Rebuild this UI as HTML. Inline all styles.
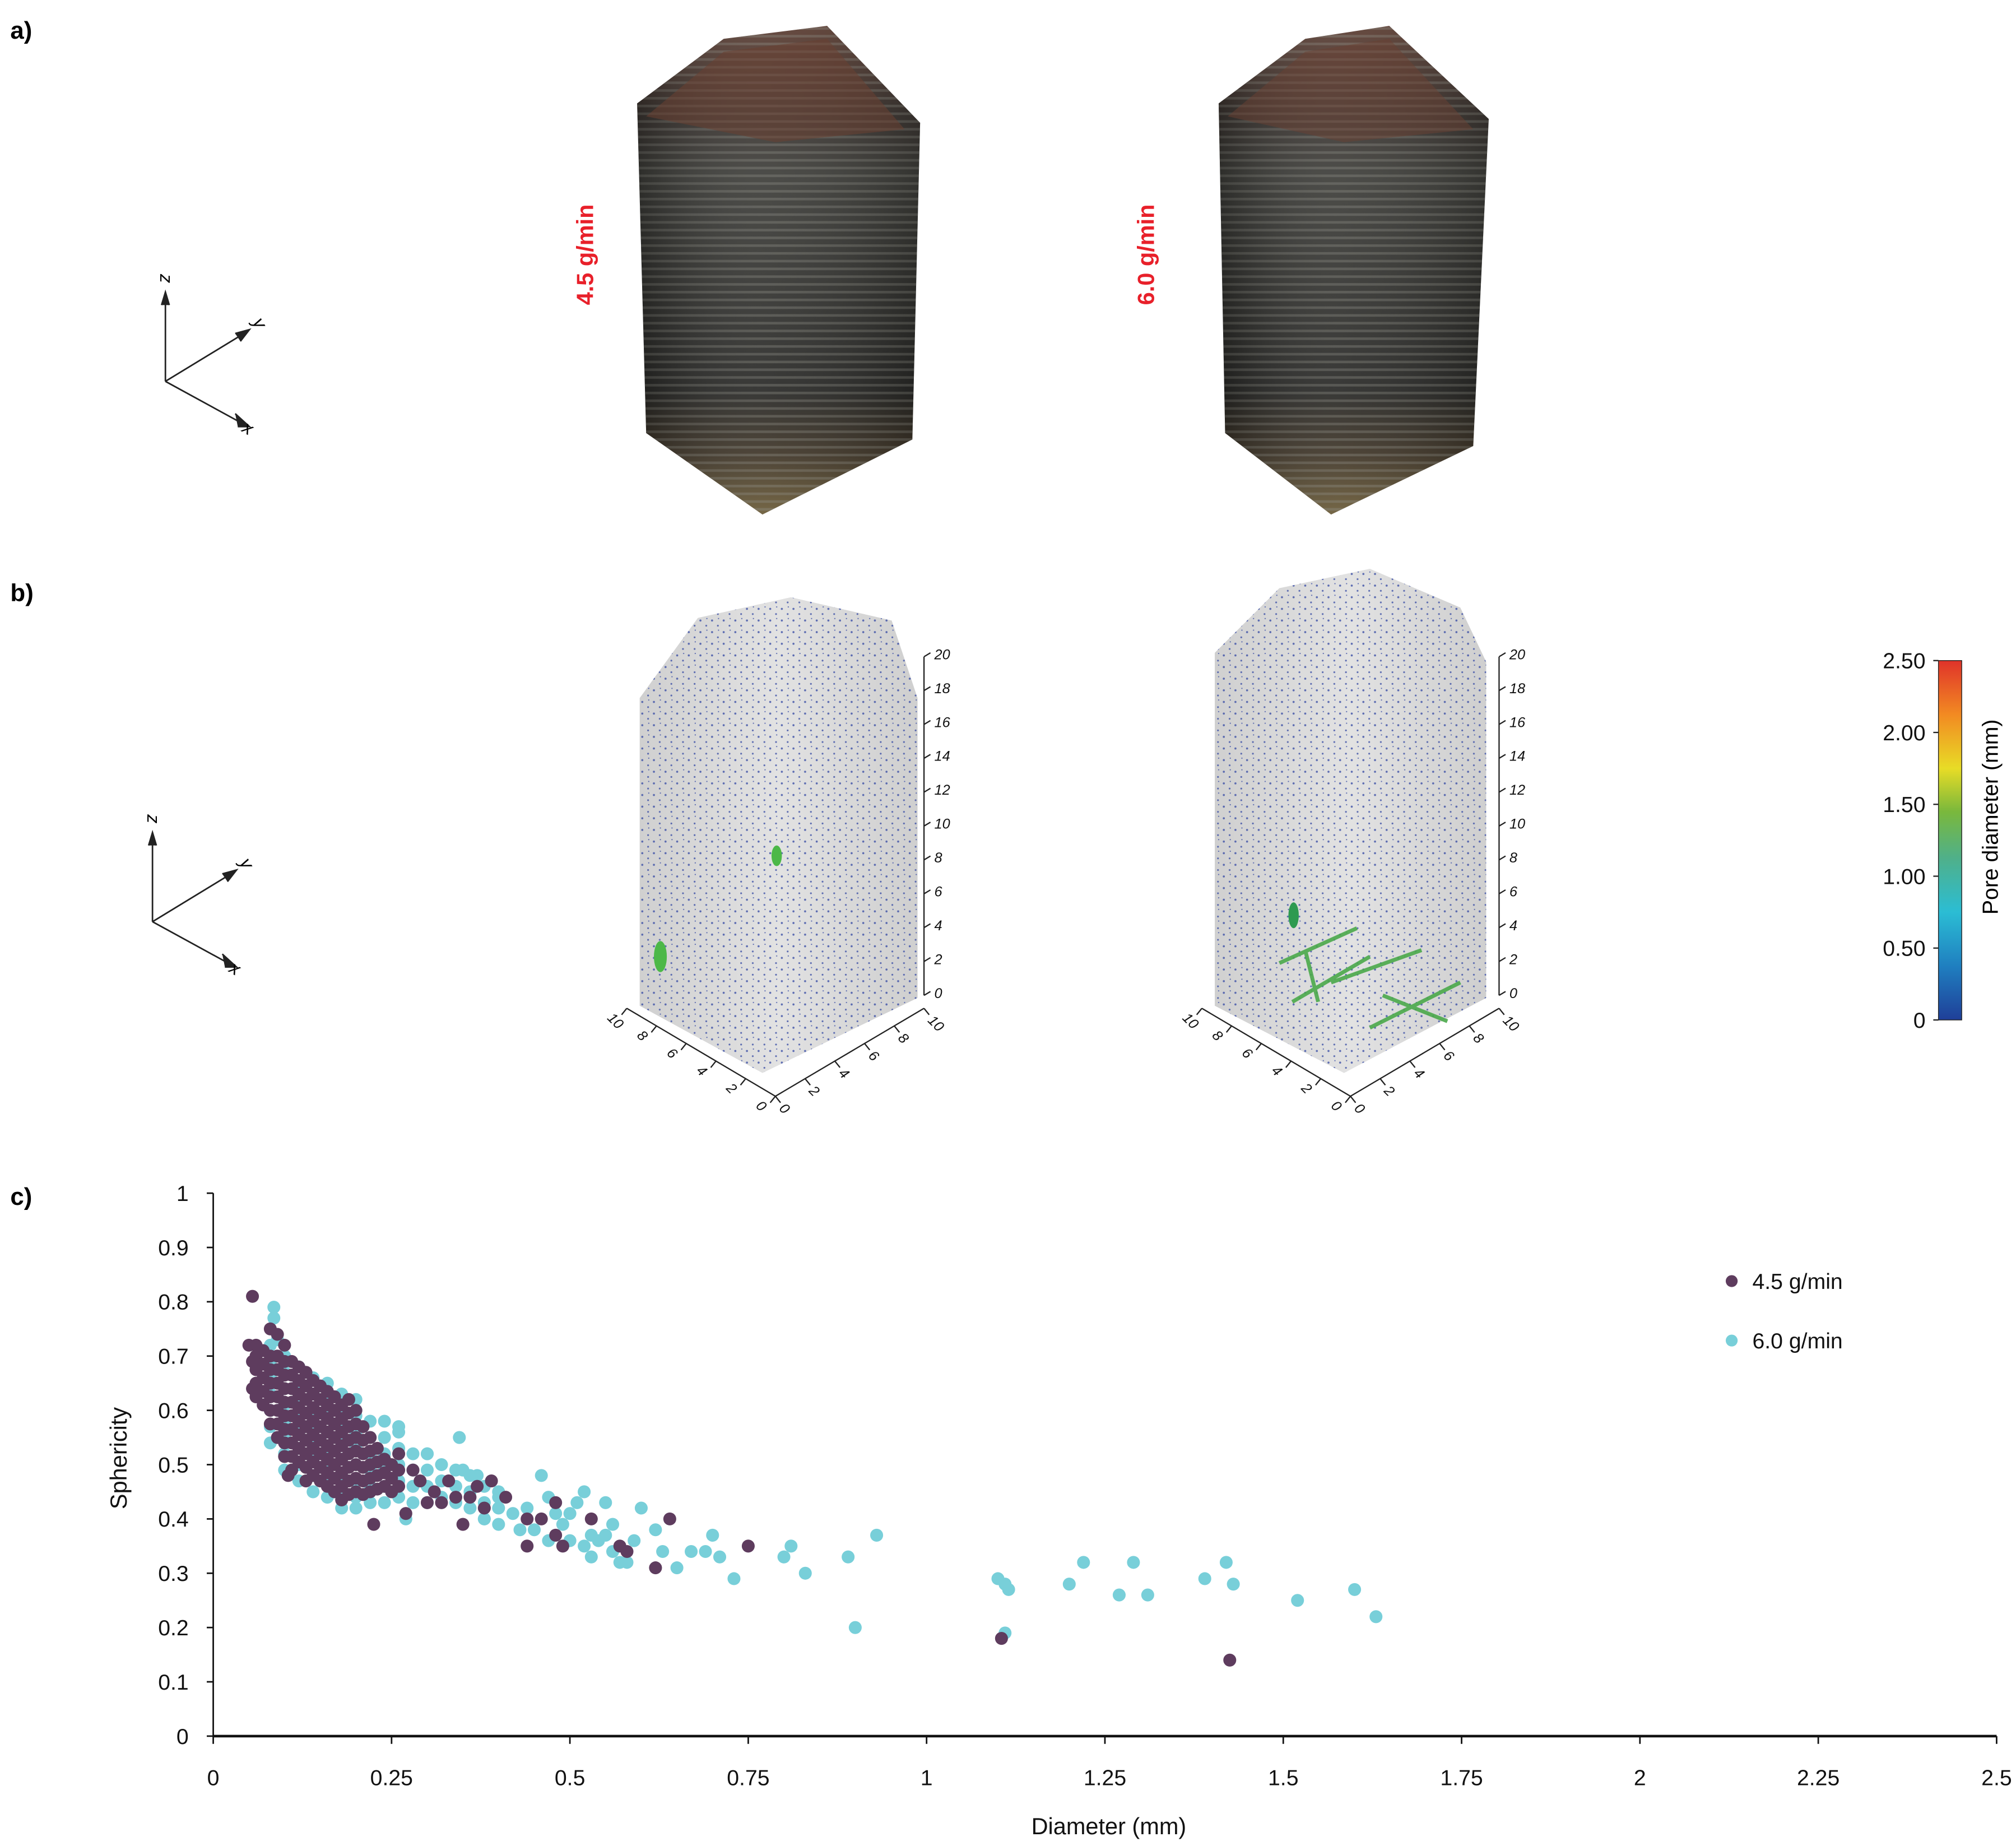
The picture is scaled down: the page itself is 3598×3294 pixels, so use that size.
<!DOCTYPE html>
<html><head><meta charset="utf-8"><style>
html,body{margin:0;padding:0;background:#fff;}
svg{display:block;font-family:"Liberation Sans",sans-serif;}
</style></head><body>
<svg id="fig" width="3598" height="3294" viewBox="0 0 1560 1428" preserveAspectRatio="none" xmlns="http://www.w3.org/2000/svg">
<defs>
<linearGradient id="blockGrad" x1="0" y1="0" x2="0" y2="1">
<stop offset="0" stop-color="#5a3b30"/><stop offset="0.18" stop-color="#3a3430"/><stop offset="0.3" stop-color="#3c3c38"/><stop offset="0.75" stop-color="#262624"/><stop offset="0.88" stop-color="#3e3426"/><stop offset="1" stop-color="#6a5a36"/>
</linearGradient>
<linearGradient id="faceGrad" x1="0" y1="0" x2="1" y2="0">
<stop offset="0" stop-color="#000" stop-opacity="0.25"/><stop offset="0.5" stop-color="#fff" stop-opacity="0.08"/><stop offset="1" stop-color="#000" stop-opacity="0.15"/>
</linearGradient>
<pattern id="layers" width="8" height="6" patternUnits="userSpaceOnUse">
<rect width="8" height="2" y="3" fill="#8a8a80" opacity="0.35"/>
</pattern>
<pattern id="pores" width="9" height="9" patternUnits="userSpaceOnUse">
<circle cx="2" cy="3" r="0.8" fill="#3b4fa6"/><circle cx="6.5" cy="7" r="0.7" fill="#3b4fa6"/><circle cx="7" cy="1.5" r="0.5" fill="#3b4fa6"/>
</pattern>
<linearGradient id="grayGrad" x1="0" y1="0" x2="1" y2="0">
<stop offset="0" stop-color="#d0d0d0"/><stop offset="0.5" stop-color="#e2e2e2"/><stop offset="1" stop-color="#cfcfcf"/>
</linearGradient>
<linearGradient id="cbar" x1="0" y1="1" x2="0" y2="0">
<stop offset="0" stop-color="#1f3f98"/><stop offset="0.15" stop-color="#1f7fc0"/><stop offset="0.3" stop-color="#2bbdd4"/><stop offset="0.45" stop-color="#4fb08a"/><stop offset="0.58" stop-color="#7ab83c"/><stop offset="0.7" stop-color="#e8dc26"/><stop offset="0.85" stop-color="#f28a22"/><stop offset="1" stop-color="#e0332a"/>
</linearGradient>
</defs>

<text x="8" y="30" font-size="19" font-weight="bold">a)</text>
<text x="8" y="465" font-size="19" font-weight="bold">b)</text>
<text x="8" y="932" font-size="19" font-weight="bold">c)</text>

<g stroke="#222" stroke-width="1.2" fill="none">
<path d="M128 295 L128 228 M128 295 L192 256 M128 295 L192 330"/>
<path d="M125 236 L128 226 L131 236 M182 258 L193 255 L186 264 M182 320 L193 330 L184 330" fill="#222"/>
</g>
<text x="124" y="220" font-size="14" font-style="italic" transform="rotate(90 128 216)">z</text>
<text x="190" y="252" font-size="14" font-style="italic" transform="rotate(60 195 255)">y</text>
<text x="188" y="336" font-size="14" font-style="italic" transform="rotate(30 192 332)">x</text>

<g>
<polygon points="493,80 560,30 640,20 712,95 706,340 590,398 500,335" fill="url(#blockGrad)"/>
<polygon points="493,80 560,30 640,20 712,95 706,340 590,398 500,335" fill="url(#layers)"/>
<polygon points="493,80 560,30 640,20 712,95 706,340 590,398 500,335" fill="url(#faceGrad)"/>
<polygon points="500,90 560,40 640,30 700,100 600,110" fill="#6a4032" opacity="0.55"/>
</g>
<g>
<polygon points="943,80 1010,30 1075,20 1152,92 1140,345 1030,398 948,335" fill="url(#blockGrad)"/>
<polygon points="943,80 1010,30 1075,20 1152,92 1140,345 1030,398 948,335" fill="url(#layers)"/>
<polygon points="943,80 1010,30 1075,20 1152,92 1140,345 1030,398 948,335" fill="url(#faceGrad)"/>
<polygon points="950,90 1010,40 1075,30 1140,100 1040,110" fill="#6a4032" opacity="0.5"/>
</g>
<text x="0" y="0" font-size="18" font-weight="bold" fill="#e8202a" text-anchor="middle" transform="translate(459 197) rotate(-90)">4.5 g/min</text>
<text x="0" y="0" font-size="18" font-weight="bold" fill="#e8202a" text-anchor="middle" transform="translate(893 197) rotate(-90)">6.0 g/min</text>

<g stroke="#222" stroke-width="1.2" fill="none">
<path d="M118 713 L118 646 M118 713 L182 674 M118 713 L182 748"/>
<path d="M115 654 L118 644 L121 654 M172 676 L183 673 L176 682 M172 738 L183 748 L174 748" fill="#222"/>
</g>
<text x="114" y="638" font-size="14" font-style="italic" transform="rotate(90 118 634)">z</text>
<text x="180" y="670" font-size="14" font-style="italic" transform="rotate(60 185 673)">y</text>
<text x="178" y="754" font-size="14" font-style="italic" transform="rotate(30 182 750)">x</text>

<g>
<polygon points="495,540 540,478 612,462 690,480 710,540 710,772 590,830 495,778" fill="url(#grayGrad)"/>
<polygon points="495,540 540,478 612,462 690,480 710,540 710,772 590,830 495,778" fill="url(#pores)" opacity="0.8"/>
<ellipse cx="511" cy="740" rx="5" ry="12" fill="#4cb848"/>
<ellipse cx="601" cy="662" rx="4" ry="8" fill="#4cb848"/>
</g>
<g>
<polygon points="940,505 990,455 1060,440 1130,470 1150,512 1150,772 1040,830 940,778" fill="url(#grayGrad)"/>
<polygon points="940,505 990,455 1060,440 1130,470 1150,512 1150,772 1040,830 940,778" fill="url(#pores)" opacity="0.8"/>
<g stroke="#4aa84a" stroke-width="3" fill="none" opacity="0.9">
<path d="M990 745 L1050 718 M1000 775 L1060 740 M1030 760 L1100 735 M1060 795 L1130 760 M1010 735 L1020 775 M1070 770 L1120 790"/>
</g>
<ellipse cx="1001" cy="708" rx="4" ry="10" fill="#2e9a50"/>
</g>
<g id="bAxes"></g>

<g>
<rect x="1500" y="511" width="18" height="278" fill="url(#cbar)" stroke="#222" stroke-width="0.6"/>
</g>
<g id="cbarTicks"></g>
<text font-size="17" text-anchor="middle" transform="translate(1546 632) rotate(-90)">Pore diameter (mm)</text>

<g id="chart"></g>
</svg>
<script>
const xTicks = [0,0.25,0.5,0.75,1,1.25,1.5,1.75,2,2.25,2.5];
const xTickLabels = ["0","0.25","0.5","0.75","1","1.25","1.5","1.75","2","2.25","2.5"];
const yTicks = [0,0.1,0.2,0.3,0.4,0.5,0.6,0.7,0.8,0.9,1];
const yTickLabels = ["0","0.1","0.2","0.3","0.4","0.5","0.6","0.7","0.8","0.9","1"];
const seriesNames = ["4.5 g/min","6.0 g/min"];
const cbarValues = [0,0.5,1,1.5,2,2.5];
const cbarLabels = ["0","0.50","1.00","1.50","2.00","2.50"];

const x45 = [0.055,0.08,0.09,0.05,0.06,0.10,0.055,0.055,0.105,0.225,0.27,0.30,0.33,0.34,0.35,0.37,0.38,0.39,0.41,0.44,0.44,0.46,0.48,0.48,0.49,0.53,0.57,0.58,0.62,0.64,0.75,1.105,1.425,0.28,0.29,0.31,0.32,0.36,
0.06,0.06,0.06,0.06,
0.07,0.07,0.07,0.07,0.07,
0.08,0.08,0.08,0.08,0.08,0.08,
0.09,0.09,0.09,0.09,0.09,0.09,0.09,
0.10,0.10,0.10,0.10,0.10,0.10,0.10,0.10,
0.11,0.11,0.11,0.11,0.11,0.11,0.11,0.11,0.11,
0.12,0.12,0.12,0.12,0.12,0.12,0.12,0.12,
0.13,0.13,0.13,0.13,0.13,0.13,0.13,0.13,0.13,
0.14,0.14,0.14,0.14,0.14,0.14,0.14,0.14,
0.15,0.15,0.15,0.15,0.15,0.15,0.15,0.15,
0.16,0.16,0.16,0.16,0.16,0.16,0.16,0.16,
0.17,0.17,0.17,0.17,0.17,0.17,0.17,0.17,
0.18,0.18,0.18,0.18,0.18,0.18,0.18,0.18,
0.19,0.19,0.19,0.19,0.19,0.19,0.19,0.19,
0.20,0.20,0.20,0.20,0.20,0.20,0.20,
0.21,0.21,0.21,0.21,0.21,0.21,
0.22,0.22,0.22,0.22,0.22,
0.23,0.23,0.23,0.23,
0.24,0.24,0.24,
0.25,0.25,0.25,
0.26,0.26,0.26];
const y45 = [0.81,0.75,0.74,0.72,0.72,0.72,0.69,0.64,0.48,0.39,0.41,0.43,0.47,0.44,0.39,0.46,0.42,0.47,0.44,0.40,0.35,0.40,0.37,0.43,0.35,0.40,0.35,0.34,0.31,0.40,0.35,0.18,0.14,0.49,0.47,0.45,0.43,0.44,
0.70,0.675,0.65,0.625,
0.71,0.685,0.66,0.635,0.61,
0.70,0.675,0.65,0.625,0.60,0.575,
0.70,0.675,0.65,0.625,0.60,0.575,0.55,
0.69,0.665,0.64,0.615,0.59,0.565,0.54,0.515,
0.69,0.665,0.64,0.615,0.59,0.565,0.54,0.515,0.49,
0.68,0.655,0.63,0.605,0.58,0.555,0.53,0.505,
0.67,0.645,0.62,0.595,0.57,0.545,0.52,0.495,0.47,
0.655,0.63,0.605,0.58,0.555,0.53,0.505,0.48,
0.645,0.62,0.595,0.57,0.545,0.52,0.495,0.47,
0.635,0.61,0.585,0.56,0.535,0.51,0.485,0.46,
0.625,0.60,0.575,0.55,0.525,0.50,0.475,0.45,
0.61,0.585,0.56,0.535,0.51,0.485,0.46,0.435,
0.62,0.595,0.57,0.545,0.52,0.495,0.47,0.445,
0.60,0.575,0.55,0.525,0.50,0.475,0.45,
0.57,0.545,0.52,0.495,0.47,0.445,
0.55,0.525,0.50,0.475,0.45,
0.53,0.505,0.48,0.455,
0.51,0.485,0.46,
0.50,0.475,0.45,
0.52,0.49,0.46];

const x60 = [0.085,0.085,0.09,0.345,0.26,0.27,0.30,0.35,0.37,0.38,0.40,0.42,0.46,0.47,0.50,0.51,0.52,0.53,0.55,0.56,0.53,0.55,0.58,0.59,0.60,0.62,0.63,0.65,0.67,0.69,0.70,0.71,0.73,0.80,0.81,0.83,0.89,0.90,0.93,1.10,1.11,1.115,1.11,1.20,1.22,1.27,1.29,1.31,1.39,1.42,1.43,1.52,1.60,1.63,
0.43,0.44,0.45,0.47,0.48,0.49,0.50,0.52,0.54,0.56,0.57,
0.08,0.08,0.08,0.08,0.08,0.08,0.08,
0.10,0.10,0.10,0.10,0.10,0.10,0.10,0.10,
0.12,0.12,0.12,0.12,0.12,0.12,0.12,0.12,
0.14,0.14,0.14,0.14,0.14,0.14,0.14,0.14,
0.16,0.16,0.16,0.16,0.16,0.16,0.16,0.16,
0.18,0.18,0.18,0.18,0.18,0.18,0.18,0.18,
0.20,0.20,0.20,0.20,0.20,0.20,0.20,0.20,
0.22,0.22,0.22,0.22,0.22,0.22,
0.24,0.24,0.24,0.24,0.24,0.24,
0.26,0.26,0.26,0.26,0.26,
0.28,0.28,0.28,0.28,
0.30,0.30,0.30,0.30,
0.32,0.32,0.32,
0.34,0.34,0.34,
0.36,0.36,0.36,
0.38,0.38,0.38,
0.40,0.40,0.40];
const y60 = [0.79,0.77,0.73,0.55,0.57,0.40,0.52,0.49,0.48,0.40,0.44,0.41,0.48,0.44,0.41,0.43,0.45,0.37,0.43,0.39,0.33,0.37,0.32,0.36,0.42,0.38,0.34,0.31,0.34,0.34,0.37,0.33,0.29,0.33,0.35,0.30,0.33,0.20,0.37,0.29,0.28,0.27,0.19,0.28,0.32,0.26,0.32,0.26,0.29,0.32,0.28,0.25,0.27,0.22,
0.38,0.42,0.38,0.36,0.41,0.39,0.36,0.35,0.36,0.34,0.32,
0.72,0.69,0.66,0.63,0.60,0.57,0.54,
0.70,0.67,0.64,0.61,0.58,0.55,0.52,0.49,
0.68,0.65,0.62,0.59,0.56,0.53,0.50,0.47,
0.66,0.63,0.60,0.57,0.54,0.51,0.48,0.45,
0.65,0.62,0.59,0.56,0.53,0.50,0.47,0.44,
0.63,0.60,0.57,0.54,0.51,0.48,0.45,0.42,
0.62,0.59,0.56,0.53,0.50,0.47,0.44,0.42,
0.58,0.55,0.52,0.49,0.46,0.43,
0.58,0.55,0.52,0.49,0.46,0.43,
0.56,0.53,0.50,0.47,0.44,
0.52,0.49,0.46,0.43,
0.52,0.49,0.46,0.43,
0.50,0.47,0.44,
0.49,0.46,0.43,
0.48,0.45,0.42,
0.46,0.43,0.40,
0.45,0.42,0.39];

const NS = "http://www.w3.org/2000/svg";
function mk(tag, attrs, parent, txt){const e=document.createElementNS(NS,tag);for(const k in attrs)e.setAttribute(k,attrs[k]);if(txt!==undefined)e.textContent=txt;parent.appendChild(e);return e;}

const X0=165,X1=1545,Y0=1343,Y1=923;
const xScale=v=>X0+(v-0)/(2.5-0)*(X1-X0);
const yScale=v=>Y0-(v-0)/(1-0)*(Y0-Y1);
const chart=document.getElementById('chart');

let yAxis=mk('line',{x1:X0,y1:Y1,x2:X0,y2:Y0,stroke:'#111','stroke-width':1.2},chart);


let xAxis=mk('line',{x1:X0,y1:Y0,x2:X1,y2:Y0,stroke:'#111','stroke-width':2},chart);


yTicks.forEach((v,i)=>{
  const y=yScale(v);
  const t=mk('line',{x1:X0-5,y1:y,x2:X0,y2:y,stroke:'#111','stroke-width':1.2},chart);
  
  
  const l=mk('text',{x:146,y:y+6,'font-size':17,'text-anchor':'end',fill:'#111'},chart,yTickLabels[i]);
  
  
});
xTicks.forEach((v,i)=>{
  const x=xScale(v);
  const t=mk('line',{x1:x,y1:Y0,x2:x,y2:Y0+6,stroke:'#111','stroke-width':1.2},chart);
  
  
  const l=mk('text',{x:x,y:1381,'font-size':17,'text-anchor':'middle',fill:'#111'},chart,xTickLabels[i]);
  
  
});
const xt=mk('text',{x:858,y:1419,'font-size':18,'text-anchor':'middle',fill:'#111'},chart,'Diameter (mm)');


const yt=mk('text',{x:0,y:0,'font-size':18,'text-anchor':'middle',fill:'#111',transform:'translate(98 1128) rotate(-90)'},chart,'Sphericity');



const colors=['#5e3c5e','#78cfd9'];
const g60=mk('g',{},chart);


x60.forEach((v,i)=>{
  const c=mk('circle',{cx:xScale(v),cy:yScale(y60[i]),r:5,fill:colors[1]},g60);
  
  
});
const g45=mk('g',{},chart);


x45.forEach((v,i)=>{
  const c=mk('circle',{cx:xScale(v),cy:yScale(y45[i]),r:5,fill:colors[0]},g45);
  
  
});
seriesNames.forEach((n,i)=>{
  const y=991+i*46;
  const d=mk('circle',{cx:1340,cy:y,r:4.6,fill:colors[i]},chart);
  
  
  const t=mk('text',{x:1356,y:y+6,'font-size':17,fill:'#111'},chart,n);
  
  
});

const cb=document.getElementById('cbarTicks');
const cbY=v=>789-v/2.5*278;
cbarValues.forEach((v,i)=>{
  const y=cbY(v);
  const t=mk('line',{x1:1496,y1:y,x2:1500,y2:y,stroke:'#222','stroke-width':1},cb);
  
  
  const l=mk('text',{x:1490,y:y+6,'font-size':17,'text-anchor':'end',fill:'#111'},cb,cbarLabels[i]);
  
  
});

const bA=document.getElementById('bAxes');
const zVals=[0,2,4,6,8,10,12,14,16,18,20];
const hVals=[0,2,4,6,8,10];
[[715,0],[1160,445]].forEach(([ax,dx])=>{
  mk('line',{x1:ax,y1:770,x2:ax,y2:508,stroke:'#222','stroke-width':1},bA);
  zVals.forEach(v=>{const y=770-v/20*262;
    mk('line',{x1:ax,y1:y,x2:ax+5,y2:y-3,stroke:'#222','stroke-width':1},bA);
    mk('text',{x:ax+8,y:y+2,'font-size':11,'font-style':'italic',fill:'#111'},bA,String(v));});
  const ox=600+dx, oy=848;
  mk('line',{x1:ox-115,y1:oy-68,x2:ox,y2:oy,stroke:'#222','stroke-width':1},bA);
  mk('line',{x1:ox,y1:oy,x2:ox+115,y2:oy-68,stroke:'#222','stroke-width':1},bA);
  hVals.forEach(v=>{
    const lx=ox-v/10*115, ly=oy-v/10*68;
    mk('line',{x1:lx,y1:ly,x2:lx-4,y2:ly+5,stroke:'#222','stroke-width':1},bA);
    mk('text',{x:lx-14,y:ly+12,'font-size':11,'font-style':'italic',fill:'#111',transform:`rotate(45 ${lx-10} ${ly+8})`},bA,String(v));
    const rx=ox+v/10*115, ry=oy-v/10*68;
    mk('line',{x1:rx,y1:ry,x2:rx+4,y2:ry+5,stroke:'#222','stroke-width':1},bA);
    mk('text',{x:rx+4,y:ry+14,'font-size':11,'font-style':'italic',fill:'#111',transform:`rotate(45 ${rx+8} ${ry+10})`},bA,String(v));
  });
});
</script>
</body></html>
